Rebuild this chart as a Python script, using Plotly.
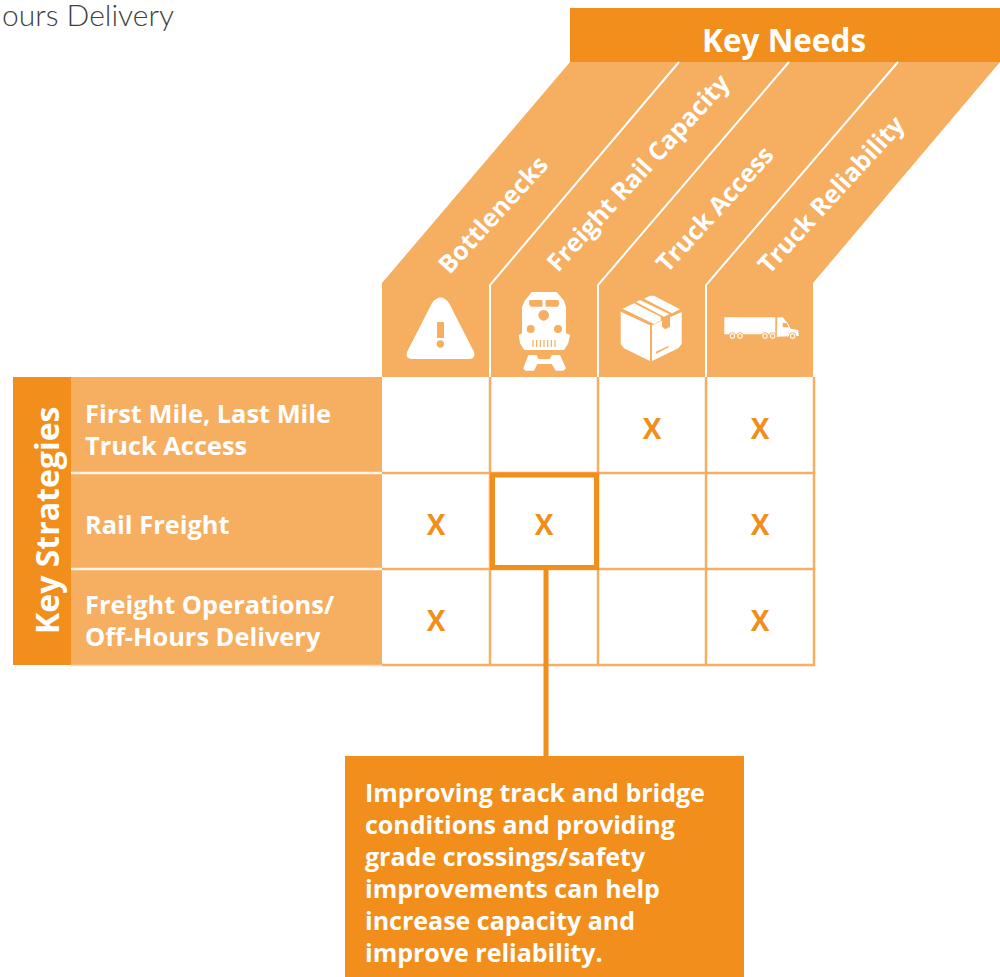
import plotly.graph_objects as go

needs = ["Bottlenecks", "Freight Rail Capacity", "Truck Access", "Truck Reliability"]
strategies = [["First Mile, Last Mile", "Truck Access"], ["Rail Freight"], ["Freight Operations/", "Off-Hours Delivery"]]
marks = [[0, 0, 1, 1], [1, 1, 0, 1], [1, 0, 0, 1]]
callout_lines = ["Improving track and bridge", "conditions and providing", "grade crossings/safety",
                 "improvements can help", "increase capacity and", "improve reliability."]
need_centers = [(492, 214), (637, 172), (714, 208), (830, 194)]

DARK = "#F18E1C"
LIGHT = "#F6AE60"
WHITE = "#FFFFFF"
FONT = "Open Sans"
GX = [382, 490, 598, 706, 814]
GY = [377, 473, 569, 665]

shapes = []


def rect(x0, y0, x1, y1, fill):
    shapes.append(dict(type="rect", x0=x0, y0=y0, x1=x1, y1=y1, fillcolor=fill, line_width=0, layer="below"))


def line(x0, y0, x1, y1, color, w):
    shapes.append(dict(type="line", x0=x0, y0=y0, x1=x1, y1=y1, line=dict(color=color, width=w), layer="below"))


def z(x, y):
    return 380 + x / 3, 280 + y / 3


def path(d, fill=WHITE, stroke=None, w=0):
    shapes.append(dict(type="path", path=d, fillcolor=fill, line=dict(color=stroke or fill, width=w), layer="below"))


def zpoly(pts, fill=WHITE):
    c = [z(*p) for p in pts]
    path("M" + " L".join(f"{a:.1f},{b:.1f}" for a, b in c) + " Z", fill)


def zcircle(x, y, r, fill=LIGHT, stroke=None, w=0):
    a, b = z(x, y)
    r = r / 3
    shapes.append(dict(type="circle", x0=a - r, x1=a + r, y0=b - r, y1=b + r, fillcolor=fill,
                       line=dict(color=stroke or fill, width=w), layer="below"))


# header band and slanted columns
rect(570, 8, 1000, 62, DARK)
path("M382,377 L382,283 L570,62 L1000,62 L813,283 L813,377 Z", LIGHT)
for xb, xt in zip(GX[1:4], [679, 789, 898]):
    path(f"M{xb},377 L{xb},285 L{xt},62", "rgba(0,0,0,0)", WHITE, 2)

# left labels
rect(13, 377, 71, 665, DARK)
rect(71, 377, 382, 665, LIGHT)
line(71, 473, 382, 473, "#FFF4E6", 2.5)
line(71, 569, 382, 569, "#FFF4E6", 2.5)
line(71, 665.5, 382, 665.5, "#FBD9B2", 1.5)

# grid
for x in GX[1:]:
    line(x, 377, x, 665.5, LIGHT, 2.5)
for y in GY[1:]:
    line(382, y, 815, y, LIGHT, 2.5)

# connector and highlight
line(546, 569, 546, 757, DARK, 5)
shapes.append(dict(type="rect", x0=492.5, y0=475, x1=596.5, y1=567.5, line=dict(color=DARK, width=5),
                   fillcolor="rgba(0,0,0,0)", layer="below"))
rect(345, 756, 744, 977, DARK)

# warning icon
path("M407,352 L432,303 Q440.5,292 449,303 L474,352 Q476,359 469,359 L412,359 Q405,359 407,352 Z")
rect(437, 322, 444, 338, LIGHT)
zcircle(181, 192, 11)

# train icon
zpoly([(455, 36), (530, 36), (552, 62), (558, 82), (558, 160), (570, 165), (565, 190), (552, 210), (433, 210),
       (420, 190), (416, 165), (426, 160), (426, 82), (434, 62)])
zpoly([(448, 60), (486, 60), (488, 70), (486, 80), (452, 80), (447, 72)], LIGHT)
zpoly([(498, 60), (535, 60), (538, 72), (533, 80), (498, 80), (496, 70)], LIGHT)
zcircle(491, 106, 16)
zcircle(452, 147, 12)
zcircle(534, 147, 12)
for gx in (459, 470, 481, 492, 503, 514, 525):
    a, b = z(gx, 180)
    rect(a - 0.6, b, a + 0.6, b + 7, LIGHT)
zpoly([(445, 225), (470, 225), (475, 237), (510, 237), (516, 225), (540, 225), (558, 265), (550, 272), (527, 272),
       (515, 252), (472, 252), (462, 272), (436, 272), (430, 265)])

# box icon
zpoly([(722, 95), (810, 136), (810, 243), (732, 205), (722, 192)])
zpoly([(816, 136), (846, 122), (846, 140), (856, 148), (870, 140), (870, 112), (905, 96), (905, 192), (895, 205),
       (816, 243)])
zpoly([(728, 86), (762, 70), (842, 110), (842, 122), (822, 132)])
zpoly([(768, 66), (780, 60), (868, 102), (852, 110)])
zpoly([(792, 56), (810, 47), (822, 47), (900, 88), (876, 100)])
zpoly([(852, 118), (866, 112), (866, 134), (856, 140), (852, 136)], LIGHT)
zpoly([(828, 215), (866, 197), (866, 202), (828, 221)], LIGHT)

# truck icon
zpoly([(1033, 112), (1186, 112), (1186, 163), (1033, 163)])
zpoly([(1192, 112), (1208, 112), (1225, 132), (1232, 146), (1255, 150), (1256, 168), (1190, 170)])
zpoly([(1208, 128), (1220, 130), (1226, 142), (1208, 142)], LIGHT)
for cx in (1057, 1080, 1155, 1178, 1238):
    zcircle(cx, 168, 10, WHITE, LIGHT, 1)
    zcircle(cx, 168, 5, LIGHT)

annotations = []


def text(x, y, s, size, color=WHITE, anchor="left", angle=0, family=FONT, weight="bold"):
    annotations.append(dict(x=x, y=y, text=s, showarrow=False, xanchor=anchor, yanchor="middle", textangle=angle,
                            font=dict(family=family, size=size, color=color, weight=weight)))


text(0, 14, "ours Delivery", 30, "#3F3F3F", family="Lato", weight=300)
text(783.5, 39, "Key Needs", 31.5, anchor="center")
text(46, 520, "Key Strategies", 32, anchor="center", angle=-90)
for name, (cx, cy) in zip(needs, need_centers):
    text(cx, cy, name, 25, anchor="center", angle=-47.5)

row_y = [(413, 445), (524,), (604, 636)]
for lines, ys in zip(strategies, row_y):
    for s, y in zip(lines, ys):
        text(83, y, s, 25.4)
for i, s in enumerate(callout_lines):
    text(363, 791.5 + 32 * i, s, 25)

# X marks through the axes
xs, ys, ts = [], [], []
for r, row in enumerate(marks):
    for c, v in enumerate(row):
        if v:
            xs.append((GX[c] + GX[c + 1]) / 2)
            ys.append((GY[r] + GY[r + 1]) / 2 + 7)
            ts.append("X")

fig = go.Figure(go.Scatter(x=xs, y=ys, text=ts, mode="text", hoverinfo="skip",
                           textfont=dict(family=FONT, size=28, color=DARK, weight="bold")))
fig.update_layout(width=1000, height=977, margin=dict(l=0, r=0, t=0, b=0), paper_bgcolor="white",
                  plot_bgcolor="white", showlegend=False, shapes=shapes, annotations=annotations,
                  xaxis=dict(range=[0, 1000], visible=False, fixedrange=True),
                  yaxis=dict(range=[977, 0], visible=False, fixedrange=True))
fig.write_html("out.html", config=dict(displayModeBar=False),
               post_script="document.body.style.margin='0';document.documentElement.style.overflow='hidden';")
